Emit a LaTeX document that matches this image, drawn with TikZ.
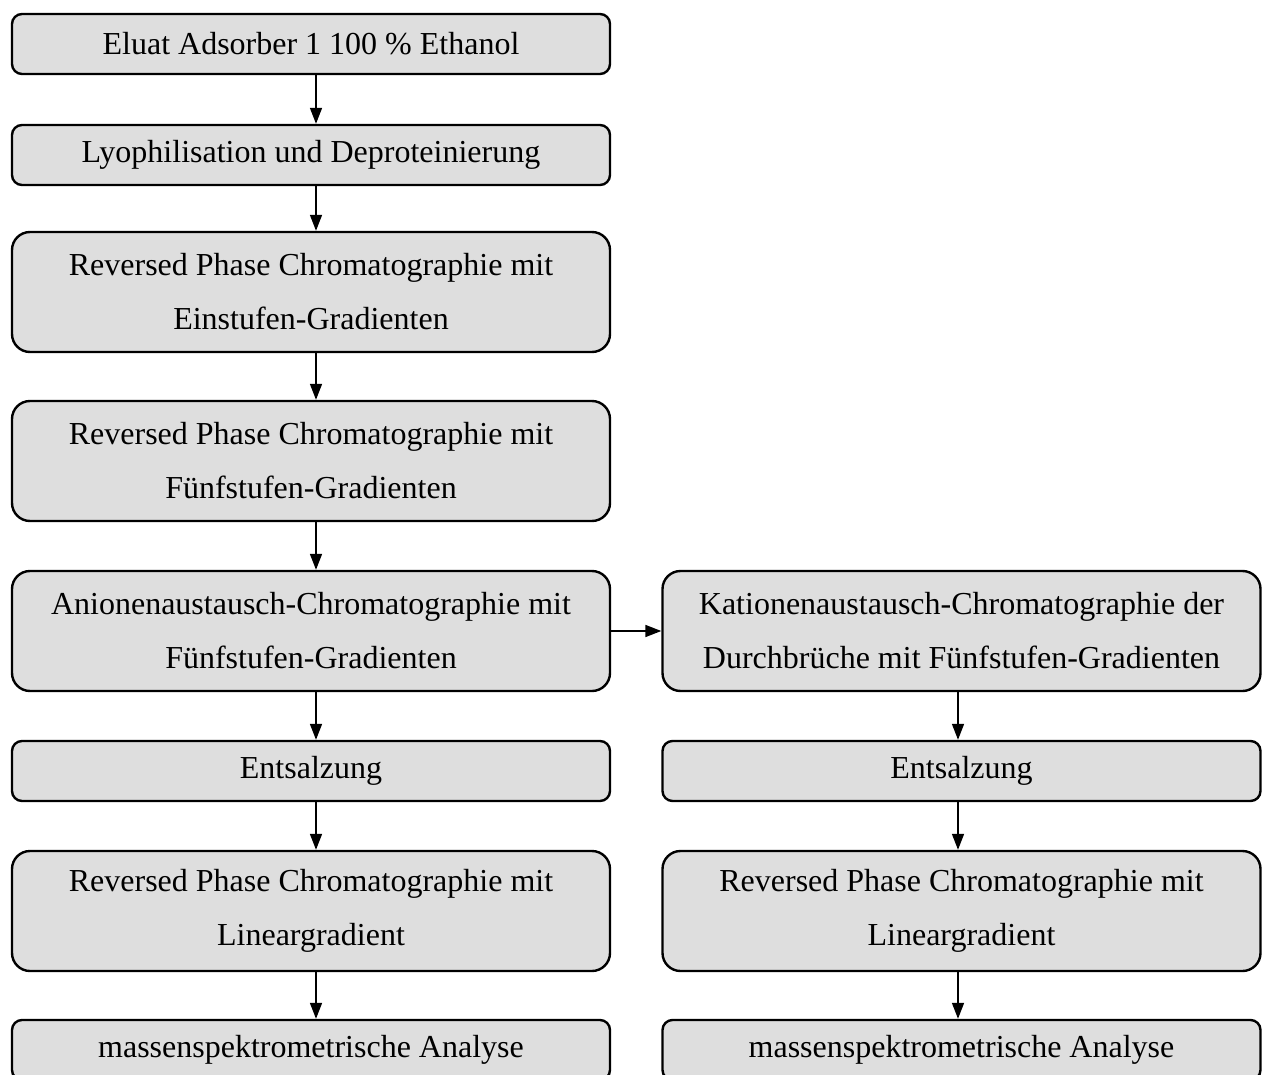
\documentclass[tikz,border=0pt]{standalone}
\usepackage{fontspec}
\setmainfont{Liberation Serif}
\usetikzlibrary{arrows.meta}
\definecolor{boxfill}{HTML}{DEDEDE}
\tikzset{
  box/.style={draw=black, line width=2.4pt, fill=boxfill, rounded corners=10pt,
    minimum width=598pt, text width=590pt, align=center, inner sep=0pt,
    font=\fontsize{32}{54}\selectfont,
    execute at begin node={\spaceskip=8pt\relax}},
  lowbox/.style={box, minimum height=60pt},
  tallbox/.style={box, minimum height=120pt, rounded corners=18pt},
  arr/.style={line width=1.6pt, -{Triangle[length=16pt,width=12pt]}}
}
\begin{document}
\begin{tikzpicture}[x=1pt,y=-1pt]
\useasboundingbox (0,0) rectangle (1263,1075);
\clip (0,0) rectangle (1263,1075);
\fill[white] (0,0) rectangle (1263,1075);
% left column
\node[lowbox]  (a1) at (311,44)  {Eluat Adsorber 1 100 \% Ethanol};
\node[lowbox]  (a2) at (311,155) {Lyophilisation und Deproteinierung};
\node[tallbox] (a3) at (311,292) {Reversed Phase Chromatographie mit\\Einstufen-Gradienten};
\node[tallbox] (a4) at (311,461) {Reversed Phase Chromatographie mit\\Fünfstufen-Gradienten};
\node[tallbox] (a5) at (311,631) {Anionenaustausch-Chromatographie mit\\Fünfstufen-Gradienten};
\node[lowbox]  (a6) at (311,771) {Entsalzung};
\node[tallbox] (a7) at (311,911) {Reversed Phase Chromatographie mit\\Lineargradient};
\node[lowbox]  (a8) at (311,1050) {massenspektrometrische Analyse};
% right column
\node[tallbox] (b5) at (961.5,631) {Kationenaustausch-Chromatographie der\\Durchbrüche mit Fünfstufen-Gradienten};
\node[lowbox]  (b6) at (961.5,771) {Entsalzung};
\node[tallbox] (b7) at (961.5,911) {Reversed Phase Chromatographie mit\\Lineargradient};
\node[lowbox]  (b8) at (961.5,1050) {massenspektrometrische Analyse};
% arrows
\foreach \s/\t in {a1/a2,a2/a3,a3/a4,a4/a5,a5/a6,a6/a7,a7/a8}
  \draw[arr] ([xshift=5pt]\s.south) -- ([xshift=5pt]\t.north);
\foreach \s/\t in {b5/b6,b6/b7,b7/b8}
  \draw[arr] ([xshift=-3.5pt]\s.south) -- ([xshift=-3.5pt]\t.north);
\draw[arr] (a5.east) -- (b5.west);
\end{tikzpicture}
\end{document}
